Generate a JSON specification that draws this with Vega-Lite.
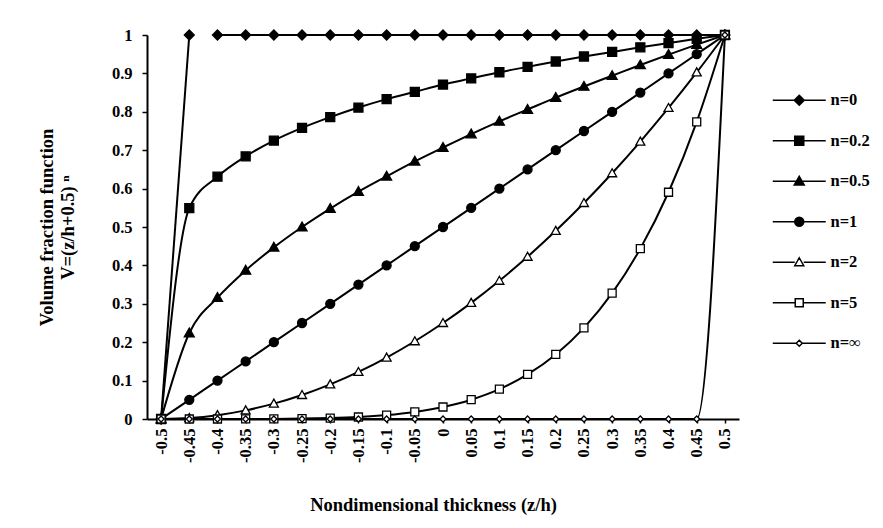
{
  "$schema": "https://vega.github.io/schema/vega-lite/v6.json",
  "width": 592,
  "height": 384,
  "autosize": "none",
  "padding": {"left": 147, "top": 35, "right": 144, "bottom": 109},
  "background": "white",
  "config": {"view": {"stroke": null}, "font": "Liberation Serif"},
  "data": {"values": [
    {"z": -0.5, "s": "n=0", "v": 0, "g": "a"}, {"z": -0.45, "s": "n=0", "v": 1, "g": "a"}, {"z": -0.4, "s": "n=0", "v": 1, "g": "b"}, {"z": -0.35, "s": "n=0", "v": 1, "g": "b"}, {"z": -0.3, "s": "n=0", "v": 1, "g": "b"}, {"z": -0.25, "s": "n=0", "v": 1, "g": "b"}, {"z": -0.2, "s": "n=0", "v": 1, "g": "b"}, {"z": -0.15, "s": "n=0", "v": 1, "g": "b"}, {"z": -0.1, "s": "n=0", "v": 1, "g": "b"}, {"z": -0.05, "s": "n=0", "v": 1, "g": "b"}, {"z": 0, "s": "n=0", "v": 1, "g": "b"}, {"z": 0.05, "s": "n=0", "v": 1, "g": "b"}, {"z": 0.1, "s": "n=0", "v": 1, "g": "b"}, {"z": 0.15, "s": "n=0", "v": 1, "g": "b"}, {"z": 0.2, "s": "n=0", "v": 1, "g": "b"}, {"z": 0.25, "s": "n=0", "v": 1, "g": "b"}, {"z": 0.3, "s": "n=0", "v": 1, "g": "b"}, {"z": 0.35, "s": "n=0", "v": 1, "g": "b"}, {"z": 0.4, "s": "n=0", "v": 1, "g": "b"}, {"z": 0.45, "s": "n=0", "v": 1, "g": "b"}, {"z": 0.5, "s": "n=0", "v": 1, "g": "b"},
    {"z": -0.5, "s": "n=0.2", "v": 0}, {"z": -0.45, "s": "n=0.2", "v": 0.549}, {"z": -0.4, "s": "n=0.2", "v": 0.631}, {"z": -0.35, "s": "n=0.2", "v": 0.684}, {"z": -0.3, "s": "n=0.2", "v": 0.725}, {"z": -0.25, "s": "n=0.2", "v": 0.758}, {"z": -0.2, "s": "n=0.2", "v": 0.786}, {"z": -0.15, "s": "n=0.2", "v": 0.811}, {"z": -0.1, "s": "n=0.2", "v": 0.833}, {"z": -0.05, "s": "n=0.2", "v": 0.852}, {"z": 0, "s": "n=0.2", "v": 0.871}, {"z": 0.05, "s": "n=0.2", "v": 0.887}, {"z": 0.1, "s": "n=0.2", "v": 0.903}, {"z": 0.15, "s": "n=0.2", "v": 0.917}, {"z": 0.2, "s": "n=0.2", "v": 0.931}, {"z": 0.25, "s": "n=0.2", "v": 0.944}, {"z": 0.3, "s": "n=0.2", "v": 0.956}, {"z": 0.35, "s": "n=0.2", "v": 0.968}, {"z": 0.4, "s": "n=0.2", "v": 0.979}, {"z": 0.45, "s": "n=0.2", "v": 0.99}, {"z": 0.5, "s": "n=0.2", "v": 1},
    {"z": -0.5, "s": "n=0.5", "v": 0}, {"z": -0.45, "s": "n=0.5", "v": 0.224}, {"z": -0.4, "s": "n=0.5", "v": 0.316}, {"z": -0.35, "s": "n=0.5", "v": 0.387}, {"z": -0.3, "s": "n=0.5", "v": 0.447}, {"z": -0.25, "s": "n=0.5", "v": 0.5}, {"z": -0.2, "s": "n=0.5", "v": 0.548}, {"z": -0.15, "s": "n=0.5", "v": 0.592}, {"z": -0.1, "s": "n=0.5", "v": 0.632}, {"z": -0.05, "s": "n=0.5", "v": 0.671}, {"z": 0, "s": "n=0.5", "v": 0.707}, {"z": 0.05, "s": "n=0.5", "v": 0.742}, {"z": 0.1, "s": "n=0.5", "v": 0.775}, {"z": 0.15, "s": "n=0.5", "v": 0.806}, {"z": 0.2, "s": "n=0.5", "v": 0.837}, {"z": 0.25, "s": "n=0.5", "v": 0.866}, {"z": 0.3, "s": "n=0.5", "v": 0.894}, {"z": 0.35, "s": "n=0.5", "v": 0.922}, {"z": 0.4, "s": "n=0.5", "v": 0.949}, {"z": 0.45, "s": "n=0.5", "v": 0.975}, {"z": 0.5, "s": "n=0.5", "v": 1},
    {"z": -0.5, "s": "n=1", "v": 0}, {"z": -0.45, "s": "n=1", "v": 0.05}, {"z": -0.4, "s": "n=1", "v": 0.1}, {"z": -0.35, "s": "n=1", "v": 0.15}, {"z": -0.3, "s": "n=1", "v": 0.2}, {"z": -0.25, "s": "n=1", "v": 0.25}, {"z": -0.2, "s": "n=1", "v": 0.3}, {"z": -0.15, "s": "n=1", "v": 0.35}, {"z": -0.1, "s": "n=1", "v": 0.4}, {"z": -0.05, "s": "n=1", "v": 0.45}, {"z": 0, "s": "n=1", "v": 0.5}, {"z": 0.05, "s": "n=1", "v": 0.55}, {"z": 0.1, "s": "n=1", "v": 0.6}, {"z": 0.15, "s": "n=1", "v": 0.65}, {"z": 0.2, "s": "n=1", "v": 0.7}, {"z": 0.25, "s": "n=1", "v": 0.75}, {"z": 0.3, "s": "n=1", "v": 0.8}, {"z": 0.35, "s": "n=1", "v": 0.85}, {"z": 0.4, "s": "n=1", "v": 0.9}, {"z": 0.45, "s": "n=1", "v": 0.95}, {"z": 0.5, "s": "n=1", "v": 1},
    {"z": -0.5, "s": "n=2", "v": 0}, {"z": -0.45, "s": "n=2", "v": 0.0025}, {"z": -0.4, "s": "n=2", "v": 0.01}, {"z": -0.35, "s": "n=2", "v": 0.0225}, {"z": -0.3, "s": "n=2", "v": 0.04}, {"z": -0.25, "s": "n=2", "v": 0.0625}, {"z": -0.2, "s": "n=2", "v": 0.09}, {"z": -0.15, "s": "n=2", "v": 0.1225}, {"z": -0.1, "s": "n=2", "v": 0.16}, {"z": -0.05, "s": "n=2", "v": 0.2025}, {"z": 0, "s": "n=2", "v": 0.25}, {"z": 0.05, "s": "n=2", "v": 0.3025}, {"z": 0.1, "s": "n=2", "v": 0.36}, {"z": 0.15, "s": "n=2", "v": 0.4225}, {"z": 0.2, "s": "n=2", "v": 0.49}, {"z": 0.25, "s": "n=2", "v": 0.5625}, {"z": 0.3, "s": "n=2", "v": 0.64}, {"z": 0.35, "s": "n=2", "v": 0.7225}, {"z": 0.4, "s": "n=2", "v": 0.81}, {"z": 0.45, "s": "n=2", "v": 0.9025}, {"z": 0.5, "s": "n=2", "v": 1},
    {"z": -0.5, "s": "n=5", "v": 0}, {"z": -0.45, "s": "n=5", "v": 0}, {"z": -0.4, "s": "n=5", "v": 0.00001}, {"z": -0.35, "s": "n=5", "v": 0.00008}, {"z": -0.3, "s": "n=5", "v": 0.00032}, {"z": -0.25, "s": "n=5", "v": 0.00098}, {"z": -0.2, "s": "n=5", "v": 0.00243}, {"z": -0.15, "s": "n=5", "v": 0.00525}, {"z": -0.1, "s": "n=5", "v": 0.01024}, {"z": -0.05, "s": "n=5", "v": 0.01845}, {"z": 0, "s": "n=5", "v": 0.03125}, {"z": 0.05, "s": "n=5", "v": 0.05033}, {"z": 0.1, "s": "n=5", "v": 0.07776}, {"z": 0.15, "s": "n=5", "v": 0.11603}, {"z": 0.2, "s": "n=5", "v": 0.16807}, {"z": 0.25, "s": "n=5", "v": 0.2373}, {"z": 0.3, "s": "n=5", "v": 0.32768}, {"z": 0.35, "s": "n=5", "v": 0.4437}, {"z": 0.4, "s": "n=5", "v": 0.59049}, {"z": 0.45, "s": "n=5", "v": 0.77378}, {"z": 0.5, "s": "n=5", "v": 1},
    {"z": -0.5, "s": "n=∞", "v": 0}, {"z": -0.45, "s": "n=∞", "v": 0}, {"z": -0.4, "s": "n=∞", "v": 0}, {"z": -0.35, "s": "n=∞", "v": 0}, {"z": -0.3, "s": "n=∞", "v": 0}, {"z": -0.25, "s": "n=∞", "v": 0}, {"z": -0.2, "s": "n=∞", "v": 0}, {"z": -0.15, "s": "n=∞", "v": 0}, {"z": -0.1, "s": "n=∞", "v": 0}, {"z": -0.05, "s": "n=∞", "v": 0}, {"z": 0, "s": "n=∞", "v": 0}, {"z": 0.05, "s": "n=∞", "v": 0}, {"z": 0.1, "s": "n=∞", "v": 0}, {"z": 0.15, "s": "n=∞", "v": 0}, {"z": 0.2, "s": "n=∞", "v": 0}, {"z": 0.25, "s": "n=∞", "v": 0}, {"z": 0.3, "s": "n=∞", "v": 0}, {"z": 0.35, "s": "n=∞", "v": 0}, {"z": 0.4, "s": "n=∞", "v": 0}, {"z": 0.45, "s": "n=∞", "v": 0}, {"z": 0.5, "s": "n=∞", "v": 1}
  ]},
  "encoding": {
    "x": {
      "field": "z", "type": "ordinal",
      "scale": {"type": "point", "padding": 0.5},
      "axis": {
        "title": "Nondimensional thickness (z/h)",
        "labelAngle": -90, "labelAlign": "right", "labelBaseline": "middle",
        "labelFont": "Liberation Serif", "labelFontWeight": "bold", "labelFontSize": 16.5, "labelColor": "black", "labelPadding": 5,
        "domainColor": "black", "domainWidth": 2, "tickColor": "black", "tickWidth": 1.5, "tickSize": 4,
        "titleFont": "Liberation Serif", "titleFontWeight": "bold", "titleFontSize": 18.5, "titleColor": "black", "titlePadding": 33, "titleX": 286,
        "grid": false
      }
    },
    "y": {
      "field": "v", "type": "quantitative",
      "scale": {"domain": [0, 1], "nice": false},
      "axis": {
        "title": ["Volume fraction function", "V=(z/h+0.5) ⁿ"],
        "values": [0, 0.1, 0.2, 0.3, 0.4, 0.5, 0.6, 0.7, 0.8, 0.9, 1], "format": ".1~f",
        "labelFont": "Liberation Serif", "labelFontWeight": "bold", "labelFontSize": 16.5, "labelColor": "black", "labelPadding": 10,
        "domainColor": "black", "domainWidth": 2, "tickColor": "black", "tickWidth": 1.5, "tickSize": 5,
        "titleFont": "Liberation Serif", "titleFontWeight": "bold", "titleFontSize": 18.5, "titleColor": "black", "titlePadding": 34, "titleLineHeight": 21,
        "grid": false
      }
    }
  },
  "layer": [
    {
      "mark": {"type": "line", "color": "black", "strokeWidth": 2, "interpolate": "monotone"},
      "encoding": {"detail": [{"field": "s"}, {"field": "g"}]}
    },
    {
      "mark": {"type": "point", "stroke": "black", "strokeWidth": 1.3, "opacity": 1, "size": 100},
      "encoding": {
        "shape": {
          "field": "s", "type": "nominal", "legend": null,
          "scale": {
            "domain": ["n=0", "n=0.2", "n=0.5", "n=1", "n=2", "n=5", "n=∞"],
            "range": [
              "M0,-1L1,0L0,1L-1,0Z",
              "M-0.9,-0.9H0.9V0.9H-0.9Z",
              "M0,-1L1,0.75H-1Z",
              "M-0.9,0A0.9,0.9,0,1,0,0.9,0A0.9,0.9,0,1,0,-0.9,0Z",
              "M0,-0.9L0.9,0.7H-0.9Z",
              "M-0.8,-0.8H0.8V0.8H-0.8Z",
              "M0,-0.6L0.6,0L0,0.6L-0.6,0Z"
            ]
          }
        },
        "fill": {
          "field": "s", "type": "nominal", "legend": null,
          "scale": {
            "domain": ["n=0", "n=0.2", "n=0.5", "n=1", "n=2", "n=5", "n=∞"],
            "range": ["black", "black", "black", "black", "white", "white", "white"]
          }
        }
      }
    },
    {
      "transform": [{"filter": "datum.v > 5"}],
      "mark": {"type": "point", "stroke": "black", "strokeWidth": 1.5, "opacity": 1, "size": 100},
      "encoding": {
        "shape": {
          "field": "s", "type": "nominal",
          "scale": {
            "domain": ["n=0", "n=0.2", "n=0.5", "n=1", "n=2", "n=5", "n=∞"],
            "range": [
              "M-5.3,0H5.3M0,-1L1,0L0,1L-1,0Z",
              "M-5.3,0H5.3M-0.9,-0.9H0.9V0.9H-0.9Z",
              "M-5.3,0H5.3M0,-1L1,0.75H-1Z",
              "M-5.3,0H5.3M-0.9,0A0.9,0.9,0,1,0,0.9,0A0.9,0.9,0,1,0,-0.9,0Z",
              "M-5.3,0H-0.9M0.9,0H5.3M0,-0.9L0.9,0.7H-0.9Z",
              "M-5.3,0H-0.8M0.8,0H5.3M-0.8,-0.8H0.8V0.8H-0.8Z",
              "M-5.3,0H-0.6M0.6,0H5.3M0,-0.6L0.6,0L0,0.6L-0.6,0Z"
            ]
          },
          "legend": {
            "title": null, "orient": "none", "legendX": 644, "legendY": 57, "padding": 0,
            "labelFont": "Liberation Serif", "labelFontWeight": "bold", "labelFontSize": 16.5, "labelColor": "black",
            "labelOffset": 23, "symbolSize": 100, "rowPadding": 23.5,
            "encode": {"symbols": {"stroke": {"value": "black"}, "strokeWidth": {"value": 1.5}, "opacity": {"value": 1}}}
          }
        },
        "fill": {
          "field": "s", "type": "nominal",
          "scale": {
            "domain": ["n=0", "n=0.2", "n=0.5", "n=1", "n=2", "n=5", "n=∞"],
            "range": ["black", "black", "black", "black", "white", "white", "white"]
          },
          "legend": {
            "title": null, "orient": "none", "legendX": 644, "legendY": 57, "padding": 0,
            "labelFont": "Liberation Serif", "labelFontWeight": "bold", "labelFontSize": 16.5, "labelColor": "black",
            "labelOffset": 23, "symbolSize": 100, "rowPadding": 23.5,
            "encode": {"symbols": {"stroke": {"value": "black"}, "strokeWidth": {"value": 1.5}, "opacity": {"value": 1}}}
          }
        }
      }
    }
  ],
  "resolve": {"scale": {"shape": "independent", "fill": "independent"}}
}
